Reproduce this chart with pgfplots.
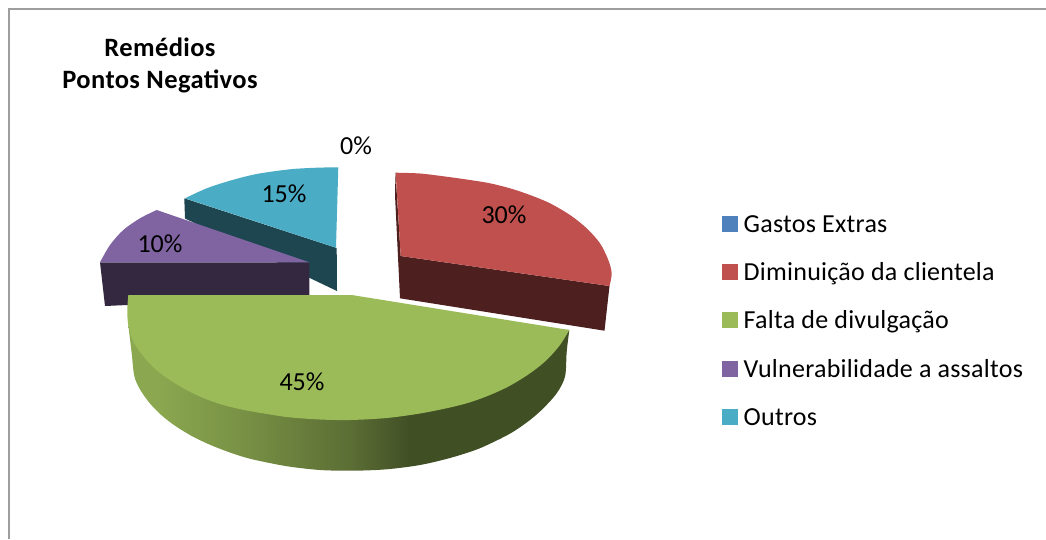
\documentclass[border=0pt]{standalone}
\usepackage{pgfplots}
\pgfplotsset{compat=1.18}
\usepackage{fontspec}
\setmainfont{Carlito}
\newfontfamily\legfont[LetterSpace=1.0]{Carlito}
\newfontfamily\titfont[LetterSpace=1.5]{Carlito}
\definecolor{cBlue}{HTML}{4F81BD}
\definecolor{cRed}{HTML}{C0504D}
\definecolor{cGreen}{HTML}{9BBB59}
\definecolor{cPurple}{HTML}{8064A2}
\definecolor{cTeal}{HTML}{4BACC6}
\definecolor{dRed}{HTML}{4D1F1F}
\definecolor{dPurple}{HTML}{33283F}
\definecolor{dTeal}{HTML}{1E4650}
\pgfdeclarehorizontalshading{greenside}{100bp}{
 color(0bp)=(cGreen!90!black);
 color(25bp)=(cGreen!90!black);
 color(28bp)=(cGreen!90!black);
 color(39bp)=(cGreen!76!black);
 color(50.5bp)=(cGreen!58!black);
 color(57bp)=(cGreen!42!black);
 color(75bp)=(cGreen!42!black);
 color(100bp)=(cGreen!42!black)}
\newcommand{\lab}{\fontsize{26bp}{26bp}\selectfont}
\newcommand{\leg}{\legfont\fontsize{26bp}{26bp}\selectfont}
\newcommand{\tit}{\titfont\fontsize{26.5bp}{26.5bp}\selectfont\bfseries}
\begin{document}
\begin{tikzpicture}
\begin{axis}[
  scale only axis, width=1046bp, height=539bp,
  xmin=0, xmax=1046, ymin=0, ymax=539, y dir=reverse,
  hide axis, clip=true,
]
\path (axis cs:0,0) rectangle (axis cs:1046,539);
% frame
\addplot[forget plot, color=black!38, line width=1.6bp] coordinates {(9,539) (9,9) (1046,9)};
% teal slice
\addplot[forget plot, fill=dTeal, draw=none] coordinates {(184.3,198.3) (185,218.5) (337,291) (336.7,248)} -- cycle;
\addplot[forget plot, fill=cTeal, draw=none, smooth] coordinates {(185,198.3) (206.7,188.3) (230,180.7) (256.7,174) (290,169.3) (316.7,167.7) (338.3,167.3)} -- (axis cs:336,247.7) -- cycle;
% purple slice
\addplot[forget plot, fill=dPurple, draw=none] coordinates {(100,262.3) (309.3,262.3) (309.3,297) (105,306)} -- cycle;
\addplot[forget plot, fill=cPurple, draw=none, smooth] coordinates {(156.7,210) (140,218.3) (123.3,230) (110,245) (100,262.3)} -- (axis cs:309.3,262.3) -- cycle;
% red slice
\addplot[forget plot, fill=dRed, draw=none] coordinates {(395.5,172.7) (395,195) (400,298.3) (604.5,330.7) (609.5,286) (400.7,256)} -- cycle;
\addplot[forget plot, fill=cRed, draw=none, smooth] coordinates {(395.7,172.7) (420,173.5) (445,176.5) (470,180) (490,183.3) (510,188.3) (530,195) (550,203.3) (570,215) (586.7,228.3) (600,243.3) (608.3,260) (611.7,273.3) (609.5,286)} -- (axis cs:400.7,256) -- cycle;
% green slice
\addplot[forget plot, shade, shading=greenside, draw=none, smooth] coordinates {(128.3,325) (131.7,353.3) (134.3,376) (140,389.4) (150,403.5) (161.7,415.4) (175,425.7) (191.7,436) (208.3,444) (225,450.7) (241.7,456.4) (255,459.9) (286.7,466.2) (320,470) (353.3,470.7) (386.7,469.3) (420,465) (450,458) (476.7,449.5) (496.7,440.5) (513.3,431.7) (530,420) (543.3,408.3) (556.7,393.3) (565,376.7) (566.7,351.7) (569.3,330)} -- cycle;
\addplot[forget plot, fill=cGreen, draw=none, smooth] coordinates {(128.3,295) (127.3,310) (128.3,325) (133.3,341.7) (145,358.3) (158.3,371.7) (175,383.3) (191.7,392.7) (208.3,400) (225,405.5) (241.7,409.5) (255,412) (286.7,417) (320,419.5) (350,420) (386.7,418) (420,413.5) (450,407.5) (470,402.3) (490,395) (510,385.7) (530,373.3) (546.7,360) (560,345) (569.3,330)} -- (axis cs:351.7,295) -- cycle;
% legend swatches
\addplot[forget plot, only marks, mark=square*, mark size=7.5bp, color=cBlue] coordinates {(729.5,223.5)};
\addplot[forget plot, only marks, mark=square*, mark size=7.5bp, color=cRed] coordinates {(729.5,271.5)};
\addplot[forget plot, only marks, mark=square*, mark size=7.5bp, color=cGreen] coordinates {(729.5,320)};
\addplot[forget plot, only marks, mark=square*, mark size=7.5bp, color=cPurple] coordinates {(729.5,368.5)};
\addplot[forget plot, only marks, mark=square*, mark size=7.5bp, color=cTeal] coordinates {(729.5,416.5)};
\node[font=\leg, anchor=base west, inner sep=0pt] at (axis cs:743.5,232) {Gastos Extras};
\node[font=\leg, anchor=base west, inner sep=0pt] at (axis cs:743.5,280) {Diminuição da clientela};
\node[font=\leg, anchor=base west, inner sep=0pt] at (axis cs:743.5,328) {Falta de divulgação};
\node[font=\leg, anchor=base west, inner sep=0pt] at (axis cs:743.5,377) {Vulnerabilidade a assaltos};
\node[font=\leg, anchor=base west, inner sep=0pt] at (axis cs:743.5,425) {Outros};
% data labels
\node[font=\lab] at (axis cs:356,146) {0\%};
\node[font=\lab] at (axis cs:284,194) {15\%};
\node[font=\lab] at (axis cs:504,215) {30\%};
\node[font=\lab] at (axis cs:160,244) {10\%};
\node[font=\lab] at (axis cs:302,382) {45\%};
% title
\node[font=\tit] at (axis cs:160,47) {Remédios};
\node[font=\tit] at (axis cs:160,81) {Pontos Negativos};
\end{axis}
\end{tikzpicture}
\end{document}
